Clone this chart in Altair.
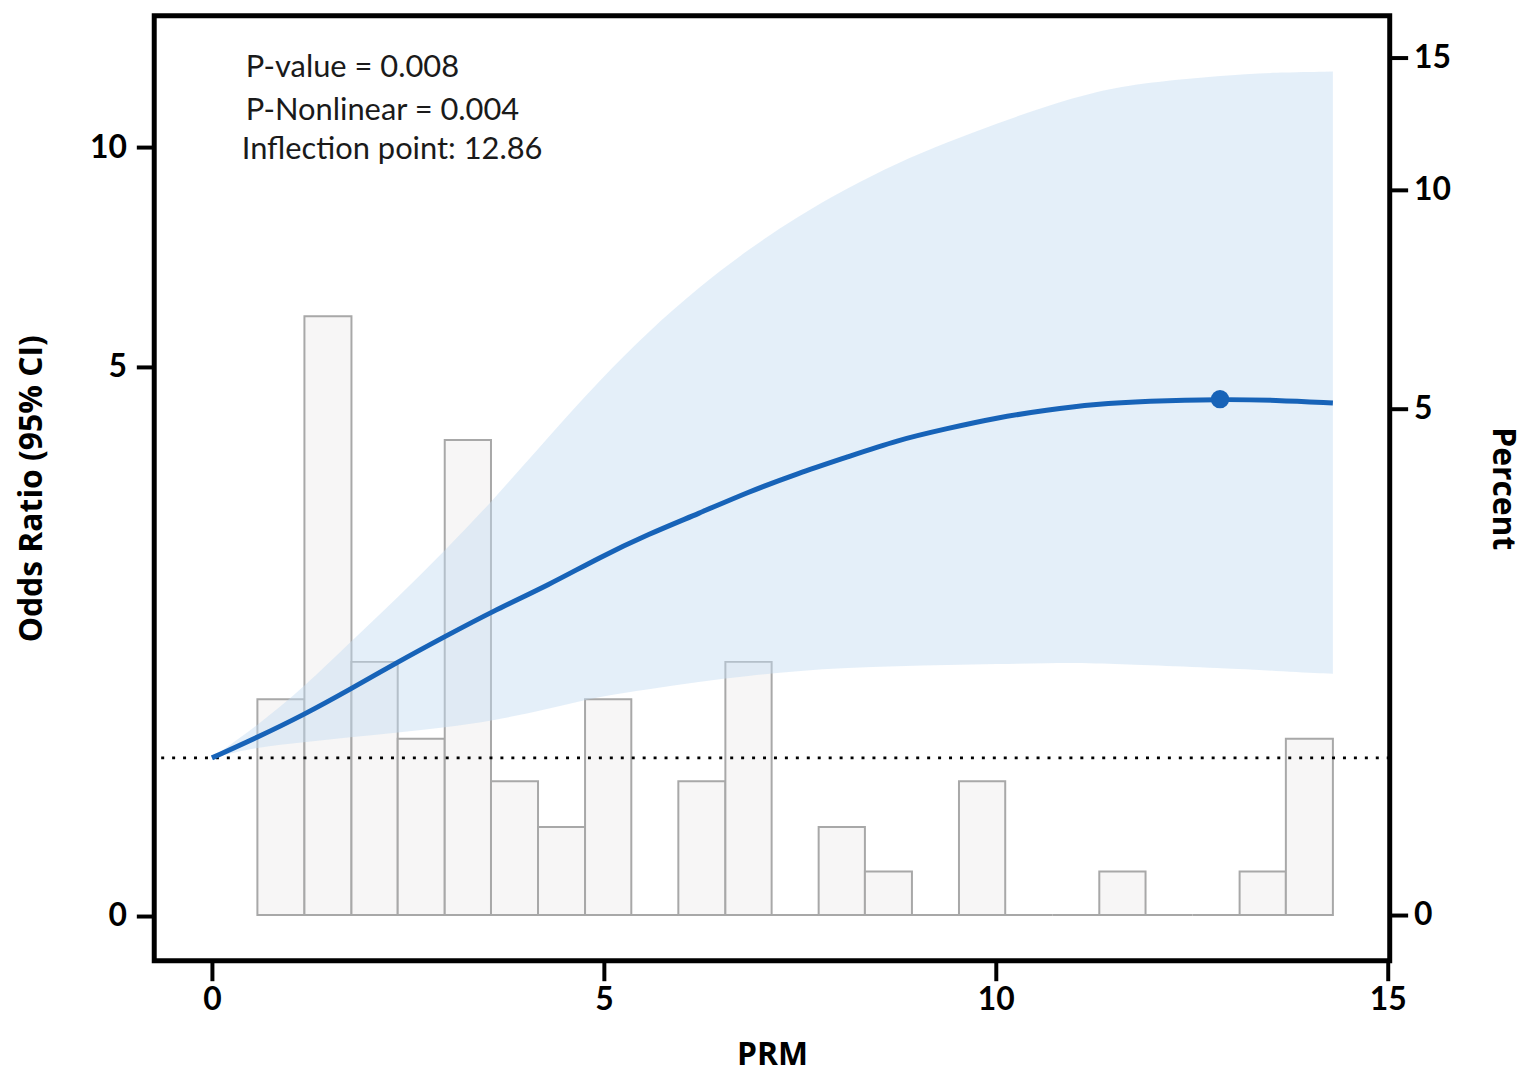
import altair as alt
import pandas as pd

# ---- data ----
prm = [0.00, 0.58, 1.17, 1.76, 2.37, 2.97, 3.58, 4.30, 4.94, 5.57, 6.21, 6.84,
       7.47, 8.11, 8.74, 9.38, 10.01, 10.65, 11.28, 11.92, 12.86, 13.57, 14.30]
or_est = [1.00, 1.21, 1.44, 1.70, 1.98, 2.24, 2.50, 2.77, 3.05, 3.29, 3.50, 3.72,
          3.91, 4.08, 4.25, 4.37, 4.48, 4.56, 4.62, 4.65, 4.67, 4.66, 4.63]
or_low = [1.00, 1.11, 1.16, 1.21, 1.26, 1.31, 1.38, 1.50, 1.63, 1.70, 1.78, 1.84,
          1.89, 1.92, 1.94, 1.95, 1.96, 1.97, 1.97, 1.95, 1.92, 1.89, 1.86]
or_high = [1.00, 1.33, 1.72, 2.18, 2.64, 3.12, 3.63, 4.29, 4.86, 5.81, 6.81, 7.67,
           8.42, 9.07, 9.64, 10.11, 10.54, 10.93, 11.27, 11.47, 11.63, 11.70, 11.72]

bin_start = [0.58, 1.18, 1.78, 2.37, 2.97, 3.56, 4.16, 4.76, 5.35, 5.95, 6.55, 7.14,
             7.74, 8.33, 8.93, 9.53, 10.12, 10.72, 11.32, 11.91, 12.51, 13.11, 13.70]
bin_end = [1.18, 1.78, 2.37, 2.97, 3.56, 4.16, 4.76, 5.35, 5.95, 6.55, 7.14, 7.74,
           8.33, 8.93, 9.53, 10.12, 10.72, 11.32, 11.91, 12.51, 13.11, 13.70, 14.30]
percent = [2.13, 7.11, 2.50, 1.74, 4.69, 1.32, 0.87, 2.13, 0.00, 1.32, 2.50, 0.00,
           0.87, 0.43, 0.00, 1.32, 0.00, 0.00, 0.43, 0.00, 0.00, 0.43, 1.74]

inflection_x = [12.86]
inflection_or = [4.67]

notes = ["P-value = 0.008", "P-Nonlinear = 0.004", "Inflection point: 12.86"]

curve_df = pd.DataFrame({"prm": prm, "or": or_est, "low": or_low, "high": or_high})
bars_df = pd.DataFrame({"start": bin_start, "end": bin_end, "pct": percent,
                        "zero": [0.0] * len(percent)})
point_df = pd.DataFrame({"prm": inflection_x, "or": inflection_or})

W, H = 1242, 950
FONT = "Lato"
TFONT = "Open Sans"

x_scale = alt.Scale(domain=[-0.736, 15.025], nice=False, zero=False)
or_scale = alt.Scale(domain=[-0.283, 0, 1, 5, 10, 12.99],
                     range=[H, 905, 746, 353, 132, 0], nice=False, zero=False)
pct_scale = alt.Scale(domain=[-0.45, 0, 5, 10, 15, 16.58],
                      range=[H, 904, 395, 175, 42, 0], nice=False, zero=False)

axis_common = dict(domain=False, grid=False, tickColor="black", tickWidth=4,
                   labelFont=FONT, labelFontWeight="bold", labelFontSize=32,
                   labelColor="black", titleFont=TFONT, titleFontWeight="bold",
                   titleFontSize=32, titleColor="black", labelFlush=False)

x_axis = alt.Axis(orient="bottom", values=[0, 5, 10, 15], title="PRM",
                  tickSize=20, labelPadding=4, titlePadding=24, **axis_common)
or_axis = alt.Axis(orient="left", values=[0, 5, 10], title="Odds Ratio (95% CI)",
                   tickSize=18, labelPadding=10, titlePadding=41, **axis_common)
pct_axis = alt.Axis(orient="right", values=[0, 5, 10, 15], title="Percent",
                    tickSize=18, labelPadding=6, titlePadding=35, **axis_common)

bars = alt.Chart(bars_df).mark_rect(
    fill="#f7f6f6", stroke="#a8a8a8", strokeWidth=2
).encode(
    x=alt.X("start:Q", scale=x_scale, axis=x_axis),
    x2="end:Q",
    y=alt.Y("pct:Q", scale=pct_scale, axis=pct_axis),
    y2="zero:Q",
)

band = alt.Chart(curve_df).mark_area(
    color="#c4dcf2", opacity=0.45, interpolate="basis"
).encode(
    x=alt.X("prm:Q", scale=x_scale, axis=x_axis),
    y=alt.Y("low:Q", scale=or_scale, axis=or_axis),
    y2="high:Q",
)

ref = alt.Chart(alt.Data(values=[{}])).mark_rule(
    color="black", strokeWidth=3, strokeDash=[3, 8]
).encode(
    y=alt.Y(datum=1, type="quantitative", scale=or_scale, axis=or_axis),
)

line = alt.Chart(curve_df).mark_line(
    color="#1763b8", strokeWidth=5, interpolate="basis"
).encode(
    x=alt.X("prm:Q", scale=x_scale, axis=x_axis),
    y=alt.Y("or:Q", scale=or_scale, axis=or_axis),
)

point = alt.Chart(point_df).mark_circle(
    color="#1763b8", size=340, opacity=1
).encode(
    x=alt.X("prm:Q", scale=x_scale, axis=x_axis),
    y=alt.Y("or:Q", scale=or_scale, axis=or_axis),
)

text_pos = [(92, 53), (92, 96), (88, 135)]
texts = [
    alt.Chart(alt.Data(values=[{}])).mark_text(
        text=t, align="left", baseline="middle", font=FONT, fontSize=31,
        color="#1a1a1a"
    ).encode(x=alt.value(px), y=alt.value(py))
    for t, (px, py) in zip(notes, text_pos)
]

inner = alt.layer(band, ref, line, point, *texts)

chart = alt.layer(bars, inner).resolve_scale(y="independent").properties(
    width=W, height=H,
    padding={"left": 7, "top": 5, "right": 8, "bottom": 5},
    background="white",
).configure_view(stroke="black", strokeWidth=5)

chart.save("out.html", embed_options={"renderer": "svg", "actions": False})
